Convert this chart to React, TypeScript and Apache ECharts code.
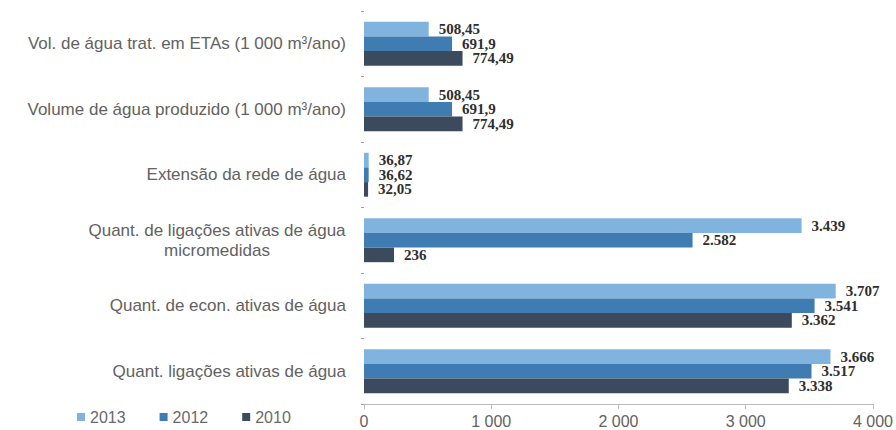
import React, { useEffect, useRef } from "react";
import * as echarts from "echarts";

// Indicadores do sistema de abastecimento de água, por ano
const categories = [
  "Vol. de água trat. em ETAs (1 000 m³/ano)",
  "Volume de água produzido (1 000 m³/ano)",
  "Extensão da rede de água",
  "Quant. de ligações ativas de água\nmicromedidas",
  "Quant. de econ. ativas de água",
  "Quant. ligações ativas de água",
];

const years = ["2013", "2012", "2010"];

const values2013 = [508.45, 508.45, 36.87, 3439, 3707, 3666];
const values2012 = [691.9, 691.9, 36.62, 2582, 3541, 3517];
const values2010 = [774.49, 774.49, 32.05, 236, 3362, 3338];

const xTicks = { min: 0, max: 4000, interval: 1000 };

const colors = ["#80b4df", "#3e7cb1", "#3b4a5d"];

const LABEL_FONT = "Liberation Sans";
const CAT_FONT_SIZE = 17;
const TEXT_GRAY = "#626262";

// "3439" -> "3.439", "508.45" -> "508,45"
function formatValue(v: number): string {
  if (Number.isInteger(v)) {
    return String(v).replace(/\B(?=(\d{3})+(?!\d))/g, ".");
  }
  return String(v).replace(".", ",");
}

function formatTick(v: number): string {
  return String(v).replace(/\B(?=(\d{3})+(?!\d))/g, " ");
}

function measure(text: string, font: string): number {
  const c = document.createElement("canvas").getContext("2d");
  if (!c) return text.length * 8;
  c.font = font;
  return c.measureText(text).width;
}

export default function App() {
  const ref = useRef<HTMLDivElement>(null);

  useEffect(() => {
    document.body.style.margin = "0";
    if (!ref.current) return;
    const chart = echarts.init(ref.current, undefined, { renderer: "svg" });

    // Two-line category labels: the lines are centred on each other,
    // the block as a whole is right-aligned against the axis.
    const catFont = `${CAT_FONT_SIZE}px "${LABEL_FONT}"`;
    const blockWidth = (cat: string) =>
      Math.ceil(Math.max(...cat.split("\n").map((l) => measure(l, catFont))));
    const catStyle = {
      fontSize: CAT_FONT_SIZE,
      fontFamily: LABEL_FONT,
      color: TEXT_GRAY,
      lineHeight: 20,
    };
    const rich: Record<string, any> = { r: catStyle };
    categories.forEach((cat) => {
      if (cat.includes("\n")) {
        const w = blockWidth(cat);
        rich[`c${w}`] = { ...catStyle, width: w, align: "center" };
      }
    });
    const catFormatter = (value: string) => {
      const lines = value.split("\n");
      if (lines.length === 1) return `{r|${value}}`;
      const w = blockWidth(value);
      return lines.map((l) => `{c${w}|${l}}`).join("\n");
    };

    const seriesData = [values2013, values2012, values2010];

    chart.setOption({
      animation: false,
      backgroundColor: "#ffffff",
      color: colors,
      grid: { left: 364, right: 20, top: 11, bottom: 26, containLabel: false },
      legend: {
        left: 72,
        bottom: 0,
        icon: "rect",
        itemWidth: 8,
        itemHeight: 8,
        itemGap: 34,
        data: years,
        textStyle: { fontFamily: LABEL_FONT, fontSize: 16, color: "#6a6a6a" },
      },
      xAxis: {
        type: "value",
        min: xTicks.min,
        max: xTicks.max,
        interval: xTicks.interval,
        axisLine: { show: true, lineStyle: { color: "#bcbcbc", width: 1 } },
        axisTick: { show: true, length: 5, lineStyle: { color: "#bcbcbc" } },
        splitLine: { show: false },
        axisLabel: {
          formatter: (v: number) => formatTick(v),
          fontFamily: LABEL_FONT,
          fontSize: 16,
          color: TEXT_GRAY,
          margin: 9,
        },
      },
      yAxis: {
        type: "category",
        inverse: true,
        data: categories,
        axisLine: { show: false },
        axisTick: { show: true, length: 3, lineStyle: { color: "#a0a0a0" } },
        axisLabel: {
          margin: 18,
          formatter: catFormatter,
          rich,
        },
      },
      series: years.map((y, i) => ({
        name: y,
        type: "bar",
        data: seriesData[i],
        barGap: "0%",
        barCategoryGap: "33%",
        itemStyle: { color: colors[i] },
        label: {
          show: true,
          position: "right",
          distance: 10,
          formatter: (p: any) => formatValue(p.value),
          fontFamily: "Liberation Serif",
          fontWeight: "bold",
          fontSize: 15,
          lineHeight: 14,
          color: "#2e2e2e",
        },
      })),
    });

    return () => chart.dispose();
  }, []);

  return <div ref={ref} style={{ width: 896, height: 430 }} />;
}
